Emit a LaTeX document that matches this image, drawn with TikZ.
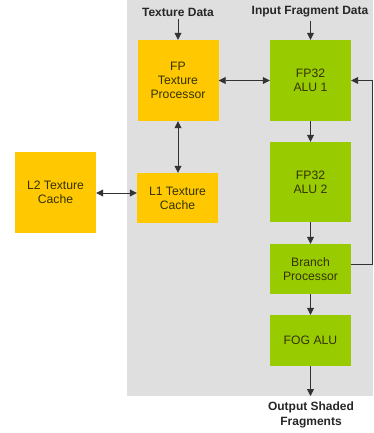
\documentclass[tikz,border=0pt]{standalone}
\usepackage{fontspec}
\setmainfont{Liberation Sans}
\usetikzlibrary{arrows.meta}
\definecolor{bggray}{HTML}{DFDFDF}
\definecolor{texyel}{HTML}{FFC800}
\definecolor{alugrn}{HTML}{99CC00}
\definecolor{boxtxt}{HTML}{333300}
\begin{document}
\begin{tikzpicture}[x=1pt,y=-1pt,
  yelbox/.style={fill=texyel,draw=none,minimum width=81pt,inner sep=0pt,align=center,text=boxtxt,font=\fontsize{12.2}{13.8}\selectfont},
  grnbox/.style={fill=alugrn,draw=none,minimum width=81pt,inner sep=0pt,align=center,text=boxtxt,font=\fontsize{12.2}{13.8}\selectfont},
  lbl/.style={font=\bfseries\fontsize{12}{15}\selectfont,align=center,text=black!85,inner sep=0pt},
  conn/.style={draw=black!80,line width=0.8pt,-{Triangle[length=7pt,width=7pt]}},
  biconn/.style={draw=black!80,line width=0.8pt,{Triangle[length=7pt,width=7pt]}-{Triangle[length=7pt,width=7pt]}}]
\useasboundingbox (0,0) rectangle (373,433);
\fill[bggray] (127,0) rectangle (373,396);
\node[yelbox,minimum height=81pt] (tp) at (178,80.5) {FP\\Texture\\Processor};
\node[grnbox,minimum height=81pt] (alu1) at (310.5,80.5) {FP32\\ALU 1};
\node[yelbox,minimum height=81pt] (l2) at (55.5,192.5) {L2 Texture\\Cache};
\node[yelbox,minimum height=50pt] (l1) at (177.5,198) {L1 Texture\\Cache};
\node[grnbox,minimum height=80pt] (alu2) at (310.5,182) {FP32\\ALU 2};
\node[grnbox,minimum height=50pt] (br) at (310.5,269) {Branch\\Processor};
\node[grnbox,minimum height=51pt] (fog) at (310.5,340.5) {FOG ALU};
\node[lbl] (td) at (178,12) {Texture Data};
\node[lbl] (ifd) at (310,12) {Input Fragment Data};
\node[lbl] (out) at (311,415) {Output Shaded\\Fragments};
\coordinate (outend) at (310.5,396);
\coordinate (fbr) at (372,264);
\draw[conn] (td.south -| tp.north) ++(0,3) -- (tp.north);
\draw[conn] (ifd.south -| alu1.north) ++(0,3) -- (alu1.north);
\draw[biconn] (tp.east) -- (alu1.west);
\draw[biconn] (tp.south) -- (tp.south |- l1.north);
\draw[biconn] (l2.east |- 0,193) -- (l1.west |- 0,193);
\draw[conn] (alu1.south) -- (alu2.north);
\draw[conn] (alu2.south) -- (br.north);
\draw[conn] (br.south) -- (fog.north);
\draw[conn] (fog.south) -- (outend);
\draw[conn] (br.east |- fbr) -- (fbr) |- (alu1.east);
\end{tikzpicture}
\end{document}
